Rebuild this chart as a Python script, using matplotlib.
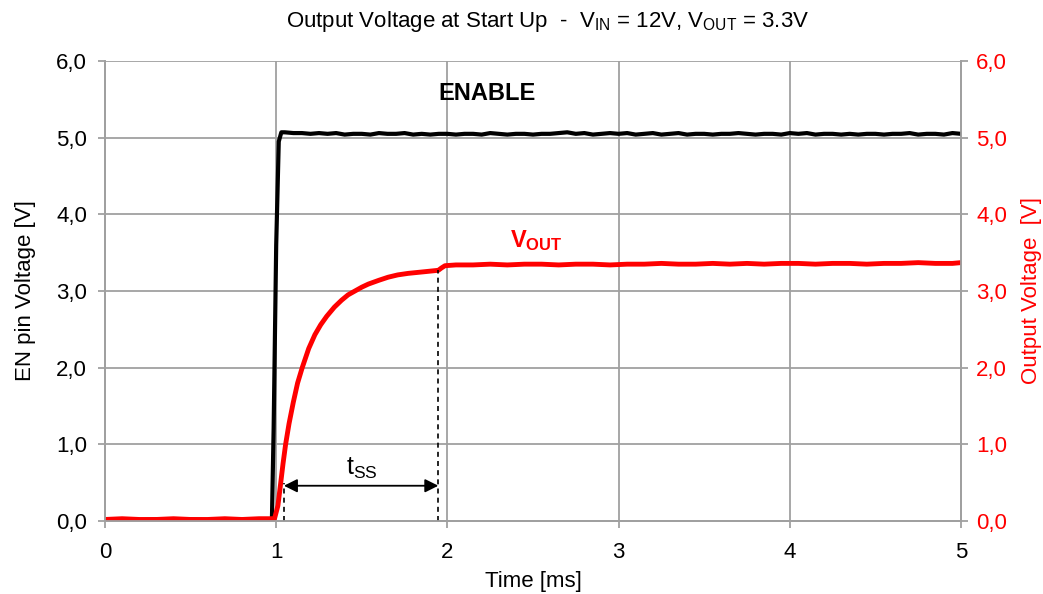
import numpy as np
import matplotlib
matplotlib.use("Agg")
import matplotlib.pyplot as plt
from matplotlib.ticker import FuncFormatter, MultipleLocator

plt.rcParams['font.family'] = ['Liberation Sans', 'DejaVu Sans']
plt.rcParams['mathtext.fontset'] = 'custom'
plt.rcParams['mathtext.rm'] = 'Liberation Sans'
plt.rcParams['mathtext.bf'] = 'Liberation Sans:bold'
plt.rcParams['mathtext.it'] = 'Liberation Sans:italic'

# ---------------- data ----------------
en_time = [0.0, 0.1, 0.2, 0.3, 0.4, 0.5, 0.6, 0.7, 0.8, 0.9, 0.975,
           0.985, 1.0, 1.015, 1.03,
           1.05, 1.1, 1.15, 1.2, 1.25, 1.3, 1.35, 1.4, 1.45, 1.5,
           1.55, 1.6, 1.65, 1.7, 1.75, 1.8, 1.85, 1.9, 1.95, 2.0,
           2.05, 2.1, 2.15, 2.2, 2.25, 2.3, 2.35, 2.4, 2.45, 2.5,
           2.55, 2.6, 2.65, 2.7, 2.75, 2.8, 2.85, 2.9, 2.95, 3.0,
           3.05, 3.1, 3.15, 3.2, 3.25, 3.3, 3.35, 3.4, 3.45, 3.5,
           3.55, 3.6, 3.65, 3.7, 3.75, 3.8, 3.85, 3.9, 3.95, 4.0,
           4.05, 4.1, 4.15, 4.2, 4.25, 4.3, 4.35, 4.4, 4.45, 4.5,
           4.55, 4.6, 4.65, 4.7, 4.75, 4.8, 4.85, 4.9, 4.95, 5.0]
en_volt = [0.01, 0.02, 0.01, 0.02, 0.01, 0.02, 0.01, 0.02, 0.01, 0.02, 0.02,
           1.2, 3.6, 4.95, 5.07,
           5.07, 5.06, 5.06, 5.05, 5.06, 5.05, 5.06, 5.04, 5.05, 5.05,
           5.04, 5.06, 5.05, 5.05, 5.06, 5.04, 5.05, 5.04, 5.05, 5.05,
           5.04, 5.05, 5.05, 5.04, 5.06, 5.05, 5.04, 5.05, 5.05, 5.04,
           5.05, 5.05, 5.06, 5.07, 5.05, 5.06, 5.04, 5.05, 5.06, 5.05,
           5.06, 5.04, 5.05, 5.06, 5.04, 5.05, 5.06, 5.04, 5.05, 5.05,
           5.04, 5.05, 5.05, 5.06, 5.05, 5.04, 5.05, 5.05, 5.04, 5.06,
           5.05, 5.06, 5.04, 5.05, 5.05, 5.04, 5.05, 5.04, 5.05, 5.05,
           5.04, 5.05, 5.05, 5.06, 5.04, 5.05, 5.05, 5.04, 5.06, 5.05]

vout_time = [0.0, 0.1, 0.2, 0.3, 0.4, 0.5, 0.6, 0.7, 0.8, 0.9, 0.99,
             1.01, 1.026, 1.04, 1.055, 1.075, 1.10, 1.125, 1.152, 1.19,
             1.226, 1.26, 1.295, 1.34, 1.382, 1.42, 1.46, 1.50, 1.538,
             1.60, 1.654, 1.71, 1.771, 1.86, 1.947, 1.965, 1.986, 2.05,
             2.15, 2.25, 2.35, 2.45, 2.55, 2.65, 2.75, 2.85, 2.95, 3.05,
             3.15, 3.25, 3.35, 3.45, 3.55, 3.65, 3.75, 3.85, 3.95, 4.05,
             4.15, 4.25, 4.35, 4.45, 4.55, 4.65, 4.75, 4.85, 4.95, 5.0]
vout_volt = [0.02, 0.03, 0.02, 0.02, 0.03, 0.02, 0.02, 0.03, 0.02, 0.03, 0.03,
             0.2, 0.49, 0.75, 1.0, 1.27, 1.55, 1.8, 2.0, 2.25,
             2.43, 2.56, 2.67, 2.79, 2.88, 2.95, 3.0, 3.05, 3.09,
             3.14, 3.18, 3.21, 3.23, 3.25, 3.27, 3.30, 3.33, 3.34,
             3.34, 3.35, 3.34, 3.35, 3.35, 3.34, 3.35, 3.35, 3.34, 3.35,
             3.35, 3.36, 3.35, 3.35, 3.36, 3.35, 3.36, 3.35, 3.36, 3.36,
             3.35, 3.36, 3.36, 3.35, 3.36, 3.36, 3.37, 3.36, 3.36, 3.37]

tss_start = 1.045
tss_end = 1.947
tss_arrow_level = 0.46
tss_start_top = 0.49
tss_end_top = 3.27

# ---------------- figure ----------------
fig = plt.figure(figsize=(10.43, 5.94), dpi=100)
ax = fig.add_axes([105/1043, 73/594, 856/1043, 460/594])
ax2 = ax.twinx()

grid_col = '#a0a0a0'
ax.set_xlim(0, 5)
ax.set_ylim(0, 6)
ax2.set_ylim(0, 6)
ax.xaxis.set_major_locator(MultipleLocator(1))
ax.yaxis.set_major_locator(MultipleLocator(1))
ax2.yaxis.set_major_locator(MultipleLocator(1))
ax.grid(True, color=grid_col, linewidth=1.3)
ax.set_axisbelow(True)

comma = FuncFormatter(lambda v, p: f"{v:.1f}".replace('.', ','))
ax.yaxis.set_major_formatter(comma)
ax2.yaxis.set_major_formatter(comma)

for a in (ax, ax2):
    for s in a.spines.values():
        s.set_color(grid_col)
        s.set_linewidth(1.3)
    a.tick_params(direction='out', length=5, width=1.3, color=grid_col, labelsize=16)
ax.spines['top'].set_visible(False)
ax2.spines['top'].set_visible(False)
ax2.tick_params(axis='y', labelcolor='red', pad=6)
ax.tick_params(axis='y', pad=8)
ax.tick_params(axis='x', pad=10)

ax.plot(en_time, en_volt, color='black', linewidth=3.0, zorder=3,
        solid_joinstyle='round')
ax.plot(vout_time, vout_volt, color='red', linewidth=3.5, zorder=4,
        solid_joinstyle='round')

# t_SS annotation
ax.plot([tss_start, tss_start], [0, tss_start_top], color='black',
        linestyle=(0, (3, 2.5)), linewidth=1.2, zorder=5)
ax.plot([tss_end, tss_end], [0, tss_end_top], color='black',
        linestyle=(0, (3, 2.5)), linewidth=1.2, zorder=5)
ax.annotate('', xy=(tss_start, tss_arrow_level), xytext=(tss_end, tss_arrow_level),
            arrowprops=dict(arrowstyle='<|-|>', color='black', lw=1.3,
                            mutation_scale=20, shrinkA=0, shrinkB=0), zorder=6)
ax.text(1.50, 0.52, r'$\mathrm{t_{SS}}$',
        fontsize=18, ha='center', va='bottom')

ax.text(2.23, 5.58, 'ENABLE', fontsize=17, fontweight='bold', ha='center', va='center')
ax.text(2.52, 3.66, r'$\mathbf{V_{OUT}}$', fontsize=17, color='red',
        ha='center', va='center')

ax.set_xlabel('Time [ms]', fontsize=16, labelpad=6)
ax.set_ylabel('EN pin Voltage [V]', fontsize=16, labelpad=14)
ax2.set_ylabel('Output Voltage  [V]', fontsize=16, color='red', labelpad=10)

fig.text(548/1043, 1 - 22/594,
         r'Output Voltage at Start Up  -  V$_{\mathrm{IN}}$ = 12V, V$_{\mathrm{OUT}}$ = 3.3V',
         fontsize=16, ha='center', va='center')

fig.savefig('out.png', dpi=100)
